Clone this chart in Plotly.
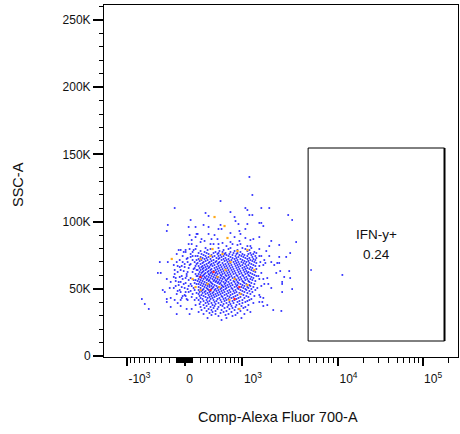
import numpy as np
import plotly.graph_objects as go

# ---------------- data (Comp-Alexa Fluor 700-A, SSC-A) ----------------
# low-density events (blue)
fl_blue = [
    -126, 75, -217, 50, 138, -231, 62, 151, 88, 138, 50, 88, 151,
    1183, 1271, 511, 273, 317, 706, 798, 1074, 1127, 1271, 1183, 821, 894, 1127, 245, 317,
    511, 529, 475, 1074, 706, 919, 946, 317, 409, 165, 798, 217, 361, 458, 1074, 1302, 1212,
    204, 259, 346, 393, 475, 547, 706, 751, 919, 869, 946, 1127, 1212, 623,
    1577, 1910, 3014, 3317, 1503, 1577, 1655, 1503, 2005, 2429, 3652, 1910,
    -50, 12, 62, 100, 138, -12, 75, -217, -331, -100, -25, 37, 75, 126, -138, -62, 0, 62,
    113, -126, -12, 37, 151, -361, -317, -126, -138, -62, 75, 138, -231, -178, -113, -50,
    12, 75, 126, -191, -138, -37, 37, 113, -288, -259, -88, -50, 12, 75, -231, -178, -126,
    -25, 25, 88, 126, -50, -643, -585, -511, -231, -178, -50, 25, 88, -100, 62,
    100, 25, 151, -37, 138, 25, -25, 151, 50, -75, 151, 0, -88, 138,
    -75, 113, 12, -100, 75, -25, 138, 37, -62, 100, 0, 151, -88, 50, 126, -50,
    -88, 100, 25, 138, -37, -113, 12, 50, 113, -75, -12, 151, -113, 88, 0,
    -62, 126, 50, -100, 100, 12, -37, 151, 37,
    1503, 1778, 3162, 1503, 1577, 1910, 2429, 2873, 1695, 1540, 1738, 2005, 2316, 2429,
    2154, 1655, 1503, 2487, 2261, 3090, 1577, 1468, 1503, 1655, 1821, 2738, 3162, 2606,
    2606, 1695, 1866, 1577, 1432, 2005, 3317, 2606, 1503, 1540, 1655, 1503, 1616, 1821,
    1655, 2102, 2555,
    5230, 11270,
    273, 475, 706, 1000, 1241,
    346, 664, 1074,
    302, 566, 869, 1183,
    204, 492, 798, 1127,
    259, 425, 547, 706, 946, 1334,
    178, 288, 393, 475, 604, 774, 869, 1212, 1399,
    217, 317, 458, 585, 684, 844, 1000, 1155, 1302,
    245, 361, 511, 623, 751, 919, 1049, 1241,
    165, 273, 409, 475, 566, 664, 821, 973, 1127, 1366,
    204, 317, 377, 529, 706, 894, 1024, 1271,
    231, 288, 441, 492, 604, 751, 844, 1074, 1183, 1399,
    178, 259, 346, 475, 566, 664, 798, 946, 1127, 1302,
    217, 302, 393, 529, 623, 728, 869, 1000, 1212, 1366,
    191, 273, 361, 441, 585, 684, 821, 1049, 1155, 1271,
    245, 331, 425, 492, 643, 774, 894, 973, 1100, 1334,
    165, 231, 317, 393, 475, 547, 706, 844, 1024, 1183, 1399,
    204, 288, 361, 458, 604, 664, 798, 919, 1074, 1241,
    259, 346, 409, 511, 566, 728, 869, 1000, 1155, 1302,
    178, 231, 302, 377, 475, 623, 684, 821, 946, 1100, 1366,
    217, 273, 331, 441, 529, 585, 751, 894, 1049, 1212,
    191, 245, 317, 409, 492, 643, 706, 844, 1000, 1127, 1271,
    231, 288, 361, 458, 547, 604, 774, 919, 1074, 1183, 1399,
    165, 204, 273, 346, 425, 511, 664, 728, 869, 1024, 1241,
    245, 317, 393, 475, 566, 623, 798, 946, 1100, 1302,
    191, 231, 302, 361, 441, 529, 684, 751, 894, 1049, 1155, 1366,
    217, 273, 346, 425, 492, 585, 643, 821, 973, 1127, 1212,
    178, 259, 317, 377, 458, 547, 706, 774, 919, 1074, 1271,
    204, 245, 331, 409, 511, 604, 664, 844, 1000, 1155, 1334,
    165, 231, 288, 361, 441, 529, 623, 728, 869, 1024, 1183, 1399,
    191, 259, 317, 393, 475, 566, 684, 798, 946, 1100, 1241,
    217, 273, 346, 425, 511, 585, 664, 751, 894, 1049, 1302,
    178, 245, 302, 377, 458, 547, 643, 821, 973, 1127, 1212,
    204, 288, 331, 409, 492, 604, 706, 844, 919, 1074, 1271,
    165, 231, 317, 393, 441, 529, 623, 774, 1000, 1155, 1366,
    191, 259, 346, 425, 475, 566, 664, 798, 869, 1024, 1183,
    217, 288, 361, 458, 511, 604, 728, 894, 1049, 1241,
    178, 245, 317, 377, 492, 585, 684, 821, 946, 1100, 1334,
    204, 273, 331, 409, 529, 643, 751, 869, 1000, 1183,
    231, 302, 361, 441, 547, 604, 706, 844, 1049, 1212,
    178, 259, 331, 393, 475, 566, 664, 798, 973, 1127, 1302,
    204, 288, 377, 458, 529, 623, 728, 869, 1024, 1155,
    245, 302, 361, 425, 511, 604, 751, 894, 1074, 1241,
    178, 231, 317, 409, 475, 566, 684, 821, 946, 1100, 1366,
    217, 273, 346, 441, 529, 643, 774, 1000, 1183,
    191, 259, 331, 393, 492, 585, 706, 844, 1049, 1271,
    231, 302, 377, 458, 547, 664, 798, 919, 1127,
    178, 273, 346, 425, 511, 623, 751, 973, 1212,
    217, 317, 393, 475, 585, 706, 869, 1024,
    191, 245, 361, 441, 529, 643, 821, 1100, 1334,
    273, 331, 409, 547, 684, 774, 946, 1155,
    204, 302, 377, 492, 604, 728, 894, 1049,
    231, 346, 458, 566, 664, 844, 1241,
    178, 288, 393, 511, 623, 798, 1000, 1183,
    245, 331, 441, 585, 751, 919, 1127,
    204, 302, 409, 529, 684, 869, 1074,
    273, 361, 475, 623, 774, 1000, 1302,
    191, 317, 425, 566, 706, 919,
    245, 377, 511, 664, 844, 1155,
    288, 409, 547, 728, 973,
    204, 346, 475, 643, 821, 1074,
    259, 393, 585, 751, 1024,
    317, 458, 684, 894,
    217, 361, 529, 798, 1127,
    288, 425, 623, 946,
    178, 377, 566, 728, 1212,
    331, 511, 869,
    245, 425, 664, 1049,
    361, 604, 821,
    475, 751,
    302, 623, 973,
    529,
]
ssc_blue = [
    110100, 101200, 97500, 96000, 96000, 93000, 90000, 90800, 86300, 88500, 83300, 83300, 81800,
    133200, 119800, 115300, 106400, 104200, 107100, 103400, 110100, 108600, 104900, 104900, 100400, 98200, 98200, 97500, 96000,
    97500, 94500, 94500, 94500, 91500, 93000, 90800, 90800, 90000, 90800, 88500, 87000, 87000, 87000, 87800, 87000, 86300,
    84800, 85600, 83300, 83300, 83300, 84100, 84800, 83300, 85600, 82600, 83300, 81800, 81800, 81800,
    110100, 110100, 104900, 101200, 99000, 99000, 96700, 88500, 85600, 82600, 84800, 81800,
    78900, 78900, 79600, 77400, 79600, 77400, 73700, 69900, 69900, 69900, 69900, 69900, 68400, 69900, 67700, 66200, 66200, 67700,
    64700, 64000, 63200, 62500, 64000, 61800, 61800, 61000, 58800, 58800, 58000, 56500, 57300, 55100, 55800, 55100,
    54300, 53600, 54300, 50600, 50600, 51300, 49800, 50600, 49100, 47600, 48400, 47600, 47600, 48400, 42400, 43200, 41700,
    44600, 42400, 43900, 41700, 41700, 42400, 38700, 35000, 40200, 36500, 37200, 35000, 35000, 31200, 31200,
    74400, 72200, 71400, 67000, 67000, 59500, 57300, 59500, 52100, 52800, 46900, 45400, 39400, 37900,
    78860, 78860, 77380, 75890, 75890, 74400, 74400, 72910, 71420, 71420, 68450, 68450, 66960, 65470, 65470, 63980,
    62500, 62500, 61010, 61010, 59520, 58030, 58030, 56540, 56540, 55060, 53570, 53570, 52080, 52080, 50590,
    49100, 49100, 47620, 46130, 46130, 44640, 43150, 43150, 41660,
    79600, 78100, 76600, 74400, 74400, 74400, 73700, 73700, 71400, 69900, 69200, 69900, 69200, 69200,
    67700, 67700, 67000, 63200, 61800, 63200, 61800, 59500, 57300, 57300, 58000, 58800, 58000, 55100,
    53600, 53600, 53600, 52100, 50600, 50600, 49800, 47600, 45400, 43900, 43200, 40200, 40200, 37900,
    37200, 34200, 33500,
    64000, 60300,
    80350, 80350, 80350, 80350, 80350,
    79610, 79610, 79610,
    78860, 78860, 78860, 78860,
    78120, 78120, 78120, 78120,
    77380, 77380, 77380, 77380, 77380, 77380,
    76630, 76630, 76630, 76630, 76630, 76630, 76630, 76630, 76630,
    75890, 75890, 75890, 75890, 75890, 75890, 75890, 75890, 75890,
    75140, 75140, 75140, 75140, 75140, 75140, 75140, 75140,
    74400, 74400, 74400, 74400, 74400, 74400, 74400, 74400, 74400, 74400,
    73660, 73660, 73660, 73660, 73660, 73660, 73660, 73660,
    72910, 72910, 72910, 72910, 72910, 72910, 72910, 72910, 72910, 72910,
    72170, 72170, 72170, 72170, 72170, 72170, 72170, 72170, 72170, 72170,
    71420, 71420, 71420, 71420, 71420, 71420, 71420, 71420, 71420, 71420,
    70680, 70680, 70680, 70680, 70680, 70680, 70680, 70680, 70680, 70680,
    69940, 69940, 69940, 69940, 69940, 69940, 69940, 69940, 69940, 69940,
    69190, 69190, 69190, 69190, 69190, 69190, 69190, 69190, 69190, 69190, 69190,
    68450, 68450, 68450, 68450, 68450, 68450, 68450, 68450, 68450, 68450,
    67700, 67700, 67700, 67700, 67700, 67700, 67700, 67700, 67700, 67700,
    66960, 66960, 66960, 66960, 66960, 66960, 66960, 66960, 66960, 66960, 66960,
    66220, 66220, 66220, 66220, 66220, 66220, 66220, 66220, 66220, 66220,
    65470, 65470, 65470, 65470, 65470, 65470, 65470, 65470, 65470, 65470, 65470,
    64730, 64730, 64730, 64730, 64730, 64730, 64730, 64730, 64730, 64730, 64730,
    63980, 63980, 63980, 63980, 63980, 63980, 63980, 63980, 63980, 63980, 63980,
    63240, 63240, 63240, 63240, 63240, 63240, 63240, 63240, 63240, 63240,
    62500, 62500, 62500, 62500, 62500, 62500, 62500, 62500, 62500, 62500, 62500, 62500,
    61750, 61750, 61750, 61750, 61750, 61750, 61750, 61750, 61750, 61750, 61750,
    61010, 61010, 61010, 61010, 61010, 61010, 61010, 61010, 61010, 61010, 61010,
    60260, 60260, 60260, 60260, 60260, 60260, 60260, 60260, 60260, 60260, 60260,
    59520, 59520, 59520, 59520, 59520, 59520, 59520, 59520, 59520, 59520, 59520, 59520,
    58780, 58780, 58780, 58780, 58780, 58780, 58780, 58780, 58780, 58780, 58780,
    58030, 58030, 58030, 58030, 58030, 58030, 58030, 58030, 58030, 58030, 58030,
    57290, 57290, 57290, 57290, 57290, 57290, 57290, 57290, 57290, 57290, 57290,
    56540, 56540, 56540, 56540, 56540, 56540, 56540, 56540, 56540, 56540, 56540,
    55800, 55800, 55800, 55800, 55800, 55800, 55800, 55800, 55800, 55800, 55800,
    55060, 55060, 55060, 55060, 55060, 55060, 55060, 55060, 55060, 55060, 55060,
    54310, 54310, 54310, 54310, 54310, 54310, 54310, 54310, 54310, 54310,
    53570, 53570, 53570, 53570, 53570, 53570, 53570, 53570, 53570, 53570, 53570,
    52820, 52820, 52820, 52820, 52820, 52820, 52820, 52820, 52820, 52820,
    52080, 52080, 52080, 52080, 52080, 52080, 52080, 52080, 52080, 52080,
    51340, 51340, 51340, 51340, 51340, 51340, 51340, 51340, 51340, 51340, 51340,
    50590, 50590, 50590, 50590, 50590, 50590, 50590, 50590, 50590, 50590,
    49850, 49850, 49850, 49850, 49850, 49850, 49850, 49850, 49850, 49850,
    49100, 49100, 49100, 49100, 49100, 49100, 49100, 49100, 49100, 49100, 49100,
    48360, 48360, 48360, 48360, 48360, 48360, 48360, 48360, 48360,
    47620, 47620, 47620, 47620, 47620, 47620, 47620, 47620, 47620, 47620,
    46870, 46870, 46870, 46870, 46870, 46870, 46870, 46870, 46870,
    46130, 46130, 46130, 46130, 46130, 46130, 46130, 46130, 46130,
    45380, 45380, 45380, 45380, 45380, 45380, 45380, 45380,
    44640, 44640, 44640, 44640, 44640, 44640, 44640, 44640, 44640,
    43900, 43900, 43900, 43900, 43900, 43900, 43900, 43900,
    43150, 43150, 43150, 43150, 43150, 43150, 43150, 43150,
    42410, 42410, 42410, 42410, 42410, 42410, 42410,
    41660, 41660, 41660, 41660, 41660, 41660, 41660, 41660,
    40920, 40920, 40920, 40920, 40920, 40920, 40920,
    40180, 40180, 40180, 40180, 40180, 40180, 40180,
    39430, 39430, 39430, 39430, 39430, 39430, 39430,
    38690, 38690, 38690, 38690, 38690, 38690,
    37940, 37940, 37940, 37940, 37940, 37940,
    37200, 37200, 37200, 37200, 37200,
    36460, 36460, 36460, 36460, 36460, 36460,
    35710, 35710, 35710, 35710, 35710,
    34970, 34970, 34970, 34970,
    34220, 34220, 34220, 34220, 34220,
    33480, 33480, 33480, 33480,
    32740, 32740, 32740, 32740, 32740,
    31990, 31990, 31990,
    31250, 31250, 31250, 31250,
    30500, 30500, 30500,
    29760, 29760,
    28270, 28270, 28270,
    26780,
]

# medium-density events (orange)
fl_mid = [409, 585, 643, -164, 100, 138, 377, 204, 346, 547, 869, 1127,
          706, 604, 458, 798, 492, 204, 946, 1334, 919, 684, 302, 1127]
ssc_mid = [103400, 96700, 87800, 72200, 57300, 51300, 79600, 72200, 74400, 75900, 78100, 78900,
           69900, 64000, 58800, 57300, 51300, 49100, 46100, 64000, 35000, 41700, 53600, 52800]

# high-density events (red)
fl_high = [393, 204, 346, 919, 798]
ssc_high = [62500, 58800, 49100, 51300, 42400]

# gate
gate_name = "IFN-y+"
gate_freq = "0.24"
gate_fl = [4870, 181600]
gate_ssc = [11160, 154750]

# axis ticks
x_major_vals = [-1000, 0, 1000, 10000, 100000]
x_major_text = ["-10<sup>3</sup>", "0", "10<sup>3</sup>", "10<sup>4</sup>", "10<sup>5</sup>"]
y_major_vals = [0, 50000, 100000, 150000, 200000, 250000]
y_major_text = ["0", "50K", "100K", "150K", "200K", "250K"]
x_limits = [-1843, 262144]
y_limits = [-744, 261144]

# ---------------- biexponential display scale ----------------
A_BIEX, C_BIEX = 40.2, 500.0
DEC_LOW, DEC_HIGH = 96.0, 85.0


def biex(v):
    v = np.asarray(v, dtype=float)
    u1 = A_BIEX * np.arcsinh(1000.0 / C_BIEX)
    u = A_BIEX * np.arcsinh(v / C_BIEX)
    safe = np.clip(v, 1.0, None)
    u = np.where((v > 1000) & (v <= 1e4), u1 + DEC_LOW * np.log10(safe / 1000.0), u)
    u = np.where(v > 1e4, u1 + DEC_LOW + DEC_HIGH * np.log10(safe / 1e4), u)
    return u


minor_vals = []
for k in range(0, 3):
    for m in range(1, 10):
        minor_vals += [m * 10 ** k, -m * 10 ** k]
for k in (3, 4, 5):
    for m in range(2, 10):
        if m * 10 ** k <= x_limits[1]:
            minor_vals.append(m * 10 ** k)

FONT = "Liberation Sans, Arial, sans-serif"

fig = go.Figure()
for xs, ys, col, sz in [(fl_blue, ssc_blue, "#2424ff", 1.7),
                        (fl_mid, ssc_mid, "#ffaa1a", 2.2),
                        (fl_high, ssc_high, "#ff2020", 2.2)]:
    fig.add_trace(go.Scatter(
        x=biex(xs), y=ys, mode="markers",
        marker=dict(symbol="square", size=sz, color=col, line=dict(width=0)),
        hoverinfo="skip", showlegend=False))

gx = biex(gate_fl)
fig.add_shape(type="rect", x0=gx[0], x1=gx[1], y0=gate_ssc[0], y1=gate_ssc[1],
              line=dict(color="black", width=1))
fig.add_shape(type="line", x0=gx[1], x1=gx[1], y0=gate_ssc[0], y1=gate_ssc[1],
              line=dict(color="black", width=2))
gcx = float((gx[0] + gx[1]) / 2)
gcy = (gate_ssc[0] + gate_ssc[1]) / 2
fig.add_annotation(x=gcx, y=gcy, text=gate_name, showarrow=False, yshift=10,
                   font=dict(family=FONT, size=13.5, color="#111"))
fig.add_annotation(x=gcx, y=gcy, text=gate_freq, showarrow=False, yshift=-10,
                   font=dict(family=FONT, size=13.5, color="#111"))

fig.add_annotation(xref="paper", yref="paper", x=0.5, y=0, xshift=-3, yshift=-60,
                   text="Comp-Alexa Fluor 700-A", showarrow=False, yanchor="middle",
                   font=dict(family=FONT, size=14.5, color="#111"))
fig.add_annotation(xref="paper", yref="paper", x=0, y=0.5, xshift=-86, yshift=-4,
                   text="SSC-A", showarrow=False, textangle=-90, xanchor="center",
                   font=dict(family=FONT, size=14.5, color="#111"))

fig.update_xaxes(
    range=[float(biex(x_limits[0])), float(biex(x_limits[1]))],
    tickmode="array", tickvals=biex(x_major_vals), ticktext=x_major_text,
    ticks="outside", ticklen=8, tickwidth=2, tickcolor="black",
    ticklabelposition="outside right", ticklabelstandoff=11,
    minor=dict(tickmode="array", tickvals=biex(minor_vals), ticks="outside",
               ticklen=5, tickwidth=1, tickcolor="black", showgrid=False),
    showline=True, linecolor="black", linewidth=1, mirror=True,
    showgrid=False, zeroline=False, automargin=False,
    tickfont=dict(family=FONT, size=12, color="#111"))
fig.update_yaxes(
    range=y_limits,
    tickmode="array", tickvals=y_major_vals, ticktext=y_major_text,
    ticks="outside", ticklen=10, tickwidth=2, tickcolor="black",
    minor=dict(tick0=0, dtick=10000, ticks="outside", ticklen=4, tickwidth=1,
               tickcolor="black", showgrid=False),
    showline=True, linecolor="black", linewidth=1, mirror=True,
    showgrid=False, zeroline=False, automargin=False,
    tickfont=dict(family=FONT, size=12, color="#111"))

fig.update_layout(width=460, height=434, margin=dict(l=104, r=2, t=5, b=77, autoexpand=False),
                  plot_bgcolor="white", paper_bgcolor="white", showlegend=False)
fig.write_html("out.html", config={"displayModeBar": False, "staticPlot": True},
               post_script="document.body.style.margin='0px';")
